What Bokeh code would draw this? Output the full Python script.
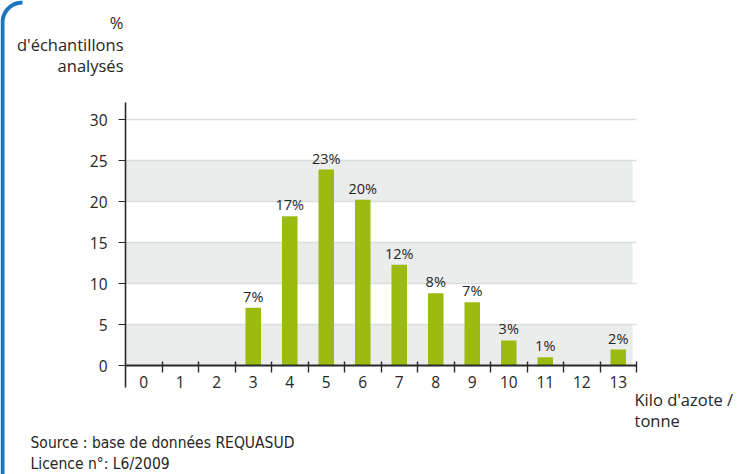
import numpy as np
from bokeh.plotting import figure
from bokeh.models import LinearAxis, FixedTicker, ColumnDataSource, Range1d
from bokeh.core.properties import value
from bokeh.embed import file_html
from bokeh.resources import INLINE

# ---------------- data ----------------
categories = ["0", "1", "2", "3", "4", "5", "6", "7", "8", "9", "10", "11", "12", "13"]
values = [0, 0, 0, 7.05, 18.2, 23.9, 20.2, 12.3, 8.8, 7.7, 3.05, 1.0, 0, 1.95]
value_labels = ["", "", "", "7%", "17%", "23%", "20%", "12%", "8%", "7%", "3%", "1%", "", "2%"]
y_ticks = [0, 5, 10, 15, 20, 25, 30]
y_title = ["%", "d'échantillons", "analysés"]
x_title = ["Kilo d'azote /", "tonne"]
source_lines = ["Source : base de données REQUASUD", "Licence n°: L6/2009"]

# ---------------- styles / layout ----------------
GREEN = "#9bbb11"
BAND = "#ebecec"
GRIDC = "#dcdddd"
AXC = "#2a2a2a"
TXT = "#262626"
BLUE = "#1b77be"
FONT = "Open Sans"
NARROW = "'Liberation Sans Narrow', 'DejaVu Sans Condensed', sans-serif"

W, H = 738, 474
n = len(categories)
AX_X = 125.0      # pixel x of the y axis
AX_Y = 365.0      # pixel y of value 0
XPX = (636.0 - AX_X) / n
YPX = 8.2
X0 = -0.5 - AX_X / XPX
X1 = X0 + W / XPX
Y0 = -(H - AX_Y) / YPX
Y1 = AX_Y / YPX


def dx(px):  # pixel x -> data x
    return -0.5 + (px - AX_X) / XPX


def dy(py):  # pixel y (from top) -> data y
    return (AX_Y - py) / YPX


p = figure(width=W, height=H, x_range=Range1d(X0, X1), y_range=Range1d(Y0, Y1),
           x_axis_type=None, y_axis_type=None, toolbar_location=None,
           output_backend="svg", min_border=0)
p.outline_line_color = None
p.background_fill_color = "white"
p.border_fill_color = "white"

xs = list(range(n))
left_edge, right_edge = -0.5, n - 0.5

# alternating bands (0-5, 10-15, 20-25)
p.quad(left=left_edge, right=dx(632), bottom=y_ticks[0:-1:2], top=y_ticks[1::2],
       fill_color=BAND, line_color=None)

# grid lines
p.segment(x0=[left_edge] * len(y_ticks), x1=[right_edge] * len(y_ticks),
          y0=y_ticks, y1=y_ticks, line_color=GRIDC, line_width=1.6)

src = ColumnDataSource(dict(x=xs, top=values, lab=value_labels))
p.vbar(x="x", top="top", width=0.425, source=src, fill_color=GREEN, line_color=None)
p.text(x="x", y="top", text="lab", source=src, text_align="center",
       text_baseline="bottom", y_offset=-2, text_font=value(FONT),
       text_font_size="14.5px", text_color=TXT)

# y axis
yax = LinearAxis(fixed_location=left_edge, bounds=(dy(387), dy(102)),
                 ticker=FixedTicker(ticks=y_ticks, minor_ticks=[]),
                 axis_line_color=AXC, axis_line_width=1.6,
                 major_tick_in=0, major_tick_out=7, major_tick_line_color=AXC,
                 major_tick_line_width=1.2, minor_tick_line_color=None,
                 major_label_text_font=FONT, major_label_text_font_size="15.5px",
                 major_label_text_color=TXT, major_label_standoff=11)
p.add_layout(yax, "left")

# x axis: labels at category centres, minor ticks at category boundaries
xax = LinearAxis(fixed_location=0, bounds=(left_edge, right_edge),
                 ticker=FixedTicker(ticks=xs, minor_ticks=[i + 0.5 for i in xs]),
                 axis_line_color=AXC, axis_line_width=1.8,
                 major_tick_in=0, major_tick_out=0, major_tick_line_color=None,
                 minor_tick_in=4, minor_tick_out=7, minor_tick_line_color=AXC,
                 minor_tick_line_width=1.4,
                 major_label_overrides={i: c for i, c in enumerate(categories)},
                 major_label_standoff=3, major_label_text_font=FONT,
                 major_label_text_font_size="15.5px", major_label_text_color=TXT)
p.add_layout(xax, "below")

# axis titles and source (text glyphs placed in data space)
p.text(x=[dx(123)] * 3, y=[dy(b) for b in (22, 44, 65)], text=y_title,
       text_align="right", text_baseline="alphabetic", text_font=value(FONT),
       text_font_size="16.5px", text_color=TXT)
p.text(x=[dx(634)] * 2, y=[dy(b) for b in (398.5, 419.5)], text=x_title,
       text_align="left", text_baseline="alphabetic", text_font=value(FONT),
       text_font_size="16.5px", text_color=TXT)
p.text(x=[dx(30)] * 2, y=[dy(b) for b in (442, 463)], text=source_lines,
       text_align="left", text_baseline="alphabetic", text_font=value(NARROW),
       text_font_size="15.5px", text_color=TXT)

# blue frame corner at the left edge
R_OUT, R_IN = 22.0, 18.0
t = np.linspace(0, np.pi / 2, 24)
outer = [(0.0, float(H))] + [(R_OUT - R_OUT * np.cos(a), R_OUT - R_OUT * np.sin(a)) for a in t]
inner = [(R_OUT - R_IN * np.cos(a), R_OUT - R_IN * np.sin(a)) for a in t[::-1]] + [(R_OUT - R_IN, float(H))]
pts = outer + inner
p.patch(x=[dx(a) for a, _ in pts], y=[dy(b) for _, b in pts],
        fill_color=BLUE, line_color=None)

open("out.html", "w").write(file_html(p, INLINE))
